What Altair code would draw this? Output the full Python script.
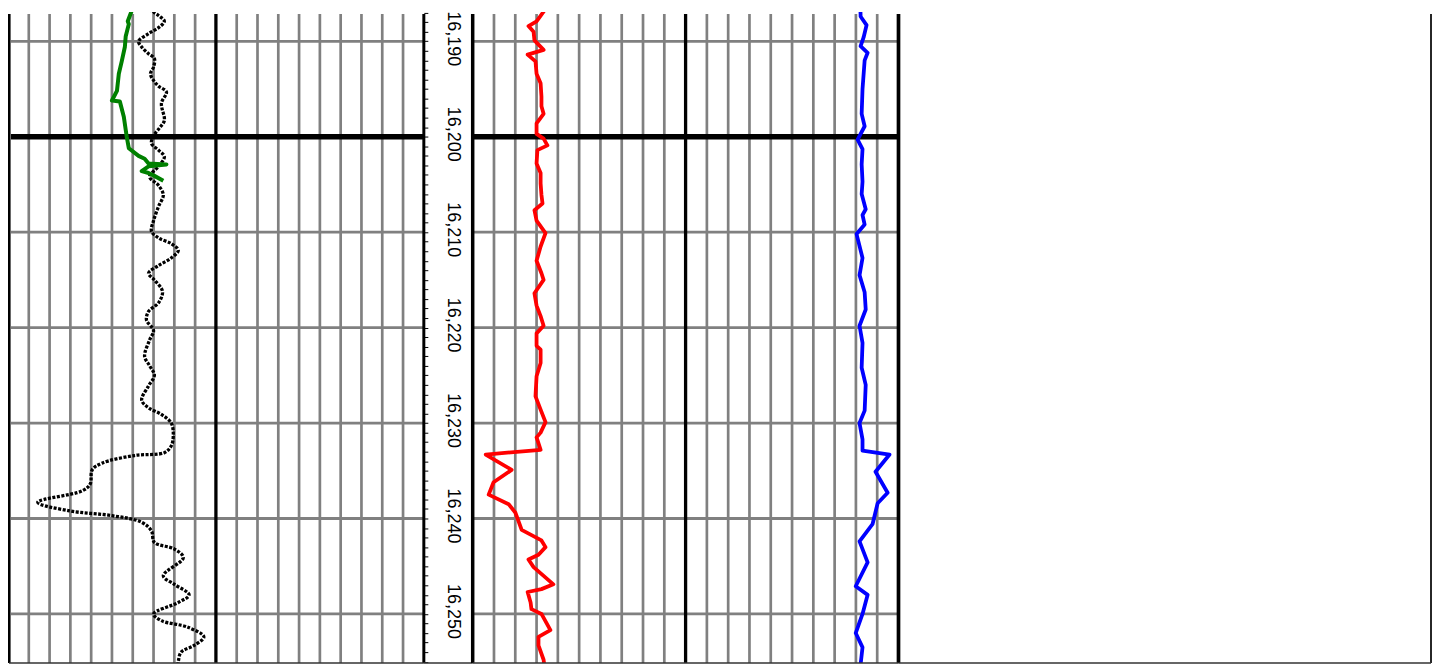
import altair as alt
import pandas as pd

# ---------------- data (depth in ft, curve values in track scale units 0-200) -------------
gr_depth = [16185.5, 16186.1, 16186.6, 16187.3, 16187.9, 16188.5, 16189.2, 16190.0, 16190.6, 16191.3,
            16191.8, 16192.7, 16193.4, 16194.1, 16194.7, 16195.3, 16196.5, 16198.3, 16199.1, 16199.9,
            16200.7, 16201.4, 16202.1, 16203.1, 16204.2, 16205.1, 16206.1, 16207.3, 16208.8, 16209.9,
            16210.6, 16211.2, 16211.9, 16212.7, 16213.5, 16214.3, 16215.0, 16216.2, 16217.4, 16218.3,
            16219.2, 16220.3, 16221.3, 16223.0, 16224.0, 16225.0, 16226.1, 16227.6, 16228.4, 16229.1,
            16230.0, 16231.3, 16232.4, 16233.1, 16233.4, 16234.2, 16234.9, 16236.4, 16237.1, 16238.3,
            16239.2, 16239.7, 16240.4, 16241.3, 16242.5, 16243.2, 16244.1, 16246.0, 16246.9, 16248.0,
            16248.8, 16250.0, 16250.7, 16251.4, 16252.4, 16253.3, 16254.0, 16255.0, 16256.0]
gr_value = [64.0, 65.7, 67.6, 72.4, 75.2, 72.8, 67.6, 62.8, 64.3, 67.6,
            70.4, 70.0, 68.5, 70.0, 72.4, 76.2, 73.8, 75.2, 72.8, 70.0,
            69.0, 72.4, 75.2, 72.4, 68.1, 72.4, 74.7, 72.4, 70.0, 69.0,
            72.4, 78.5, 81.9, 78.5, 72.4, 67.6, 70.4, 74.3, 72.4, 67.6,
            66.6, 70.0, 68.1, 65.7, 68.1, 70.4, 67.6, 64.3, 67.6, 73.8,
            78.5, 79.5, 78.5, 75.2, 60.9, 45.2, 40.5, 39.5, 35.7, 14.3,
            29.5, 50.0, 64.3, 69.0, 70.4, 80.0, 84.3, 74.7, 80.0, 87.1,
            81.9, 70.0, 73.8, 86.6, 94.2, 89.5, 83.3, 81.9, 81.5]

green_depth = [16185.5, 16186.8, 16187.9, 16188.2, 16189.5, 16190.6, 16192.1, 16193.4, 16195.2, 16196.2,
               16196.3, 16197.9, 16200.0, 16201.2, 16202.0, 16202.3, 16202.8, 16202.9, 16203.1, 16203.6,
               16203.8, 16204.1, 16204.6]
green_value = [64.0, 59.5, 57.6, 58.1, 56.6, 56.2, 54.7, 53.3, 52.4, 50.0,
               53.8, 55.7, 57.1, 58.1, 62.8, 65.7, 67.6, 76.2, 67.6, 64.3,
               67.6, 70.4, 74.7]

red_depth = [16185.5, 16186.9, 16187.9, 16188.4, 16189.0, 16189.9, 16190.9, 16191.4, 16192.1, 16193.4,
             16194.4, 16195.8, 16196.8, 16197.6, 16198.6, 16199.7, 16200.2, 16200.9, 16201.4, 16202.8,
             16203.8, 16204.9, 16206.1, 16207.0, 16207.7, 16208.8, 16210.1, 16211.5, 16213.0, 16214.3,
             16215.0, 16216.4, 16217.7, 16218.8, 16219.8, 16220.6, 16221.9, 16222.3, 16223.7, 16225.1,
             16227.2, 16228.6, 16229.9, 16231.0, 16231.5, 16232.8, 16233.3, 16234.9, 16236.2, 16237.5,
             16238.5, 16239.4, 16241.2, 16242.3, 16243.0, 16243.8, 16244.3, 16245.1, 16246.9, 16247.4,
             16247.7, 16248.8, 16249.5, 16250.0, 16251.7, 16252.4, 16253.3, 16254.8, 16256.0]
red_value = [32.0, 33.3, 30.0, 26.2, 28.6, 29.0, 33.3, 25.8, 29.5, 30.0,
             31.9, 32.3, 32.3, 33.3, 30.0, 30.0, 33.3, 35.1, 30.4, 30.0,
             31.9, 31.9, 32.3, 32.8, 29.0, 30.0, 34.2, 31.9, 30.0, 32.3,
             33.3, 29.0, 30.0, 31.9, 33.3, 30.0, 30.0, 31.9, 31.9, 30.0,
             29.5, 31.9, 34.2, 31.9, 30.0, 31.9, 6.1, 18.3, 9.8, 7.5,
             16.9, 20.1, 23.0, 32.3, 34.2, 30.9, 26.2, 28.6, 37.9, 32.3,
             25.8, 27.2, 27.6, 32.3, 36.5, 30.9, 30.9, 33.3, 34.0]

blue_depth = [16185.5, 16187.4, 16188.3, 16189.6, 16190.5, 16191.2, 16192.0, 16195.0, 16197.6, 16198.9,
              16200.3, 16201.3, 16202.9, 16204.7, 16206.0, 16207.6, 16208.2, 16209.2, 16210.2, 16212.7,
              16214.5, 16216.3, 16218.1, 16219.8, 16221.6, 16224.2, 16226.0, 16228.7, 16230.0, 16231.7,
              16232.9, 16233.3, 16235.1, 16237.3, 16238.4, 16240.6, 16242.4, 16244.6, 16247.1, 16248.0,
              16250.0, 16252.0, 16253.5, 16255.3, 16256.0]
blue_value = [182.0, 182.2, 185.0, 183.6, 182.2, 185.5, 184.1, 183.1, 182.7, 184.1,
              180.8, 183.1, 182.7, 183.1, 182.7, 184.6, 183.1, 184.1, 180.3, 183.1,
              181.7, 184.1, 184.6, 181.7, 183.1, 182.7, 184.6, 184.1, 181.7, 183.1,
              183.1, 195.8, 189.2, 194.9, 190.2, 187.8, 181.7, 185.5, 179.9, 185.5,
              183.1, 179.9, 183.1, 182.2, 182.5]

track_grid_values = list(range(10, 200, 10))      # vertical grid divisions of tracks
depth_major = list(range(16190, 16251, 10))       # labelled depths / horizontal grid
depth_minor = list(range(16187, 16256))           # 1 ft depth ticks
depth_top, depth_bottom = 16186.92, 16255.15

# ---------------- chart ----------------
H = 653
yscale = alt.Scale(domain=[depth_top, depth_bottom], reverse=True, nice=False, zero=False)
xscale = alt.Scale(domain=[0, 200], nice=False, zero=False)

vg_df = pd.DataFrame({"v": track_grid_values})
hg_df = pd.DataFrame({"depth": depth_major})
one = alt.Data(values=[{}])


def grid_layers(x_start):
    vgrey = alt.Chart(vg_df).transform_filter("datum.v !== 100").mark_rule(
        color="#808080", strokeWidth=2.7).encode(
        x=alt.X("v:Q", scale=xscale, axis=None), y=alt.value(2), y2=alt.value("height"))
    hgrey = alt.Chart(hg_df).transform_filter("datum.depth !== 16200").mark_rule(
        color="#808080", strokeWidth=2.8).encode(
        y=alt.Y("depth:Q", scale=yscale, axis=None), x=alt.value(x_start), x2=alt.value("width"))
    vblack = alt.Chart(vg_df).transform_filter("datum.v === 100").mark_rule(
        color="black", strokeWidth=3.3).encode(
        x=alt.X("v:Q", scale=xscale, axis=None), y=alt.value(2), y2=alt.value("height"))
    hblack = alt.Chart(hg_df).transform_filter("datum.depth === 16200").mark_rule(
        color="black", strokeWidth=5.5).encode(
        y=alt.Y("depth:Q", scale=yscale, axis=None), x=alt.value(x_start), x2=alt.value("width"))
    return [vgrey, hgrey, vblack, hblack]


def curve(depths, values, color, dash=None, interp="linear", width=3.8):
    df = pd.DataFrame({"depth": depths, "value": values})
    kw = dict(clip=True, color=color, strokeWidth=width, interpolate=interp, strokeJoin="round")
    if dash:
        kw["strokeDash"] = dash
    return alt.Chart(df).mark_line(**kw).encode(
        x=alt.X("value:Q", scale=xscale, axis=None),
        y=alt.Y("depth:Q", scale=yscale, axis=None),
        order="depth:Q",
    )


def vborder(pos, width, color="black"):
    return alt.Chart(one).mark_rule(color=color, strokeWidth=width).encode(
        x=alt.value(pos), y=alt.value(2), y2=alt.value("height"))


def bottom_border(x_start=0):
    return alt.Chart(one).mark_rule(color="#333333", strokeWidth=1.5).encode(
        y=alt.value("height"), x=alt.value(x_start), x2=alt.value("width"))


track1 = alt.layer(
    *grid_layers(3),
    curve(gr_depth, gr_value, "black", dash=[3, 1.5], interp="catmull-rom", width=3.3),
    curve(green_depth, green_value, "#008000", width=4),
    vborder(1.3, 2.6),
    vborder("width", 3),
    bottom_border(1),
).properties(width=417, height=H)

depth_axis = alt.Axis(
    orient="right", offset=-49, values=depth_minor,
    labelExpr="datum.value % 10 === 0 ? format(datum.value, ',') : ''",
    tickSize=4, tickColor="black", tickWidth=1, domain=False, grid=False, title=None,
    labelAngle=90, labelAlign="center", labelBaseline="middle", labelPadding=24.5,
    labelOffset=-3, labelFont="Liberation Sans", labelFontSize=18, labelColor="black",
    labelOverlap=False, labelFlush=False, labelBound=False,
)
depth_track = alt.layer(
    alt.Chart(hg_df).mark_rule(strokeWidth=0, opacity=0).encode(
        y=alt.Y("depth:Q", scale=yscale, axis=depth_axis)),
    bottom_border(),
).properties(width=49, height=H)

track2 = alt.layer(
    *grid_layers(0),
    curve(red_depth, red_value, "#ff0000"),
    curve(blue_depth, blue_value, "#0000ff"),
    vborder(0, 3.5),
    vborder("width", 3.7),
    bottom_border(),
).properties(width=427, height=H)

track3 = alt.layer(
    vborder("width", 1.7),
    bottom_border(),
).properties(width=534, height=H)

chart = alt.hconcat(
    track1, depth_track, track2, track3,
    spacing=0, bounds="flush", padding=0, background="white",
).configure_view(strokeWidth=0)

chart.save("out.html", embed_options={"renderer": "svg", "actions": False})
